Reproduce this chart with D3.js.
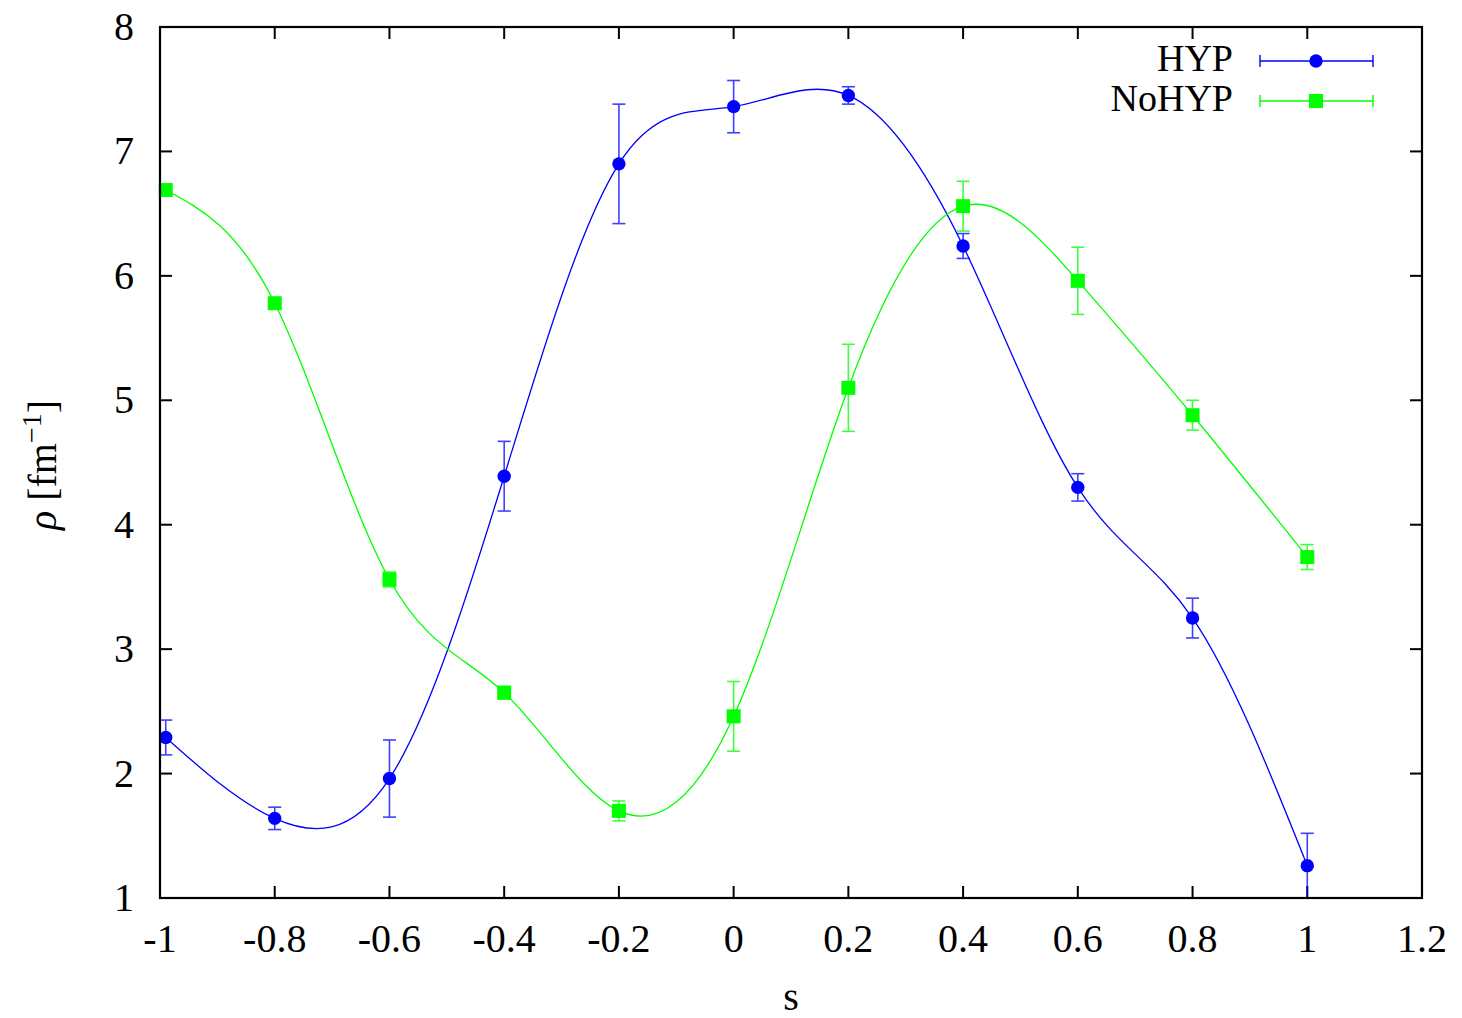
<!DOCTYPE html>
<html><head><meta charset="utf-8">
<script src="https://cdn.jsdelivr.net/npm/d3@7"></script>
<style>body{margin:0;background:#fff}svg{display:block}</style>
</head><body>
<script>
const sValues = [-0.99, -0.8, -0.6, -0.4, -0.2, 0, 0.2, 0.4, 0.6, 0.8, 1];
const hypValues = [2.29, 1.64, 1.96, 4.39, 6.90, 7.36, 7.45, 6.24, 4.30, 3.25, 1.26];
const hypErrors = [0.14, 0.09, 0.31, 0.28, 0.48, 0.21, 0.07, 0.10, 0.11, 0.16, 0.26];
const nohypValues = [6.69, 5.78, 3.56, 2.65, 1.70, 2.46, 5.10, 6.56, 5.96, 4.88, 3.74];
const nohypErrors = [0.03, 0.03, 0.06, 0.05, 0.08, 0.28, 0.35, 0.20, 0.27, 0.12, 0.10];
const xTicks = [-1, -0.8, -0.6, -0.4, -0.2, 0, 0.2, 0.4, 0.6, 0.8, 1, 1.2];
const yTicks = [1, 2, 3, 4, 5, 6, 7, 8];
const seriesNames = ["HYP", "NoHYP"];
const seriesColors = ["#0000ff", "#00ff00"];

const W = 1462, H = 1018;
const L = 160, R = 1422, T = 27, B = 898;
const font = "'Liberation Serif', 'DejaVu Serif', serif";
const fs = 40;

const svg = d3.select("body").append("svg").attr("width", W).attr("height", H);
const x = d3.scaleLinear().domain([-1, 1.2]).range([L, R]);
const y = d3.scaleLinear().domain([1, 8]).range([B, T]);

// ticks (inward, mirrored)
const tl = 12;
const axis = svg.append("g").attr("stroke", "#000").attr("stroke-width", 2);
xTicks.forEach(v => {
  axis.append("line").attr("x1", x(v)).attr("x2", x(v)).attr("y1", B).attr("y2", B - tl);
  axis.append("line").attr("x1", x(v)).attr("x2", x(v)).attr("y1", T).attr("y2", T + tl);
});
yTicks.forEach(v => {
  axis.append("line").attr("x1", L).attr("x2", L + tl).attr("y1", y(v)).attr("y2", y(v));
  axis.append("line").attr("x1", R).attr("x2", R - tl).attr("y1", y(v)).attr("y2", y(v));
});

// tick labels
svg.append("g").selectAll("text").data(xTicks).join("text")
  .attr("x", d => x(d)).attr("y", 952).attr("text-anchor", "middle")
  .attr("font-family", font).attr("font-size", fs).text(d => String(d));
svg.append("g").selectAll("text").data(yTicks).join("text")
  .attr("x", 134).attr("y", d => y(d) + 13).attr("text-anchor", "end")
  .attr("font-family", font).attr("font-size", fs).text(d => d);

// axis titles
svg.append("text").attr("x", 791).attr("y", 1010).attr("text-anchor", "middle")
  .attr("font-family", font).attr("font-size", fs).text("s");
const yl = svg.append("text").attr("transform", "translate(56,465) rotate(-90)")
  .attr("text-anchor", "middle").attr("font-family", font).attr("font-size", fs);
yl.append("tspan").attr("font-style", "italic").text("ρ");
yl.append("tspan").text(" [fm");
yl.append("tspan").attr("font-size", 28).attr("dy", -15).text("−1");
yl.append("tspan").attr("dy", 15).text("]");

const series = [
  {vals: hypValues, errs: hypErrors, color: seriesColors[0], shape: "circle"},
  {vals: nohypValues, errs: nohypErrors, color: seriesColors[1], shape: "square"}
];

const line = d3.line().x(d => x(d[0])).y(d => y(d[1])).curve(d3.curveNatural);
const cap = 6.5;

function drawMarker(g, cx, cy, shape, color) {
  if (shape === "circle") g.append("circle").attr("cx", cx).attr("cy", cy).attr("r", 6.7).attr("fill", color);
  else g.append("rect").attr("x", cx - 7).attr("y", cy - 7).attr("width", 14).attr("height", 14).attr("fill", color);
}

series.forEach(s => {
  const g = svg.append("g");
  const pts = sValues.map((v, i) => [v, s.vals[i]]);
  g.append("path").attr("d", line(pts)).attr("fill", "none").attr("stroke", s.color).attr("stroke-width", 1.3);
  const eg = g.append("g").attr("stroke", s.color).attr("stroke-width", 1.6).attr("opacity", 0.75);
  sValues.forEach((v, i) => {
    const cx = x(v), y1 = y(Math.max(1, s.vals[i] - s.errs[i])), y2 = y(s.vals[i] + s.errs[i]);
    eg.append("line").attr("x1", cx).attr("x2", cx).attr("y1", y1).attr("y2", y2);
    if (s.vals[i] - s.errs[i] >= 1)
      eg.append("line").attr("x1", cx - cap).attr("x2", cx + cap).attr("y1", y1).attr("y2", y1);
    eg.append("line").attr("x1", cx - cap).attr("x2", cx + cap).attr("y1", y2).attr("y2", y2);
  });
  sValues.forEach((v, i) => drawMarker(g, x(v), y(s.vals[i]), s.shape, s.color));
});

// frame
svg.append("rect").attr("x", L).attr("y", T).attr("width", R - L).attr("height", B - T)
  .attr("fill", "none").attr("stroke", "#000").attr("stroke-width", 2.2);

// legend
const legY = [61, 101];
series.forEach((s, i) => {
  const g = svg.append("g");
  g.append("text").attr("x", 1233).attr("y", legY[i] + 10).attr("text-anchor", "end")
    .attr("font-family", font).attr("font-size", 38).text(seriesNames[i]);
  const eg = g.append("g").attr("stroke", s.color).attr("stroke-width", 1.4);
  eg.append("line").attr("x1", 1260).attr("x2", 1373).attr("y1", legY[i]).attr("y2", legY[i]);
  eg.append("line").attr("x1", 1260).attr("x2", 1260).attr("y1", legY[i] - 6).attr("y2", legY[i] + 6);
  eg.append("line").attr("x1", 1373).attr("x2", 1373).attr("y1", legY[i] - 6).attr("y2", legY[i] + 6);
  drawMarker(g, 1316, legY[i], s.shape, s.color);
});
</script>
</body></html>
